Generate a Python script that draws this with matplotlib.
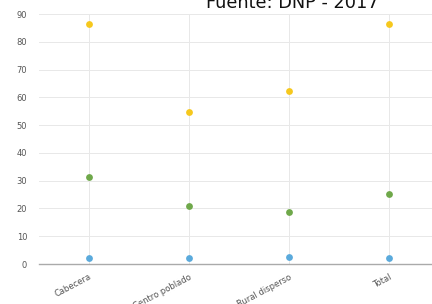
import matplotlib
matplotlib.use("Agg")
import matplotlib.pyplot as plt

categories = ["Cabecera", "Centro poblado", "Rural disperso", "Total"]
serie_amarilla = [86.4, 54.7, 62.3, 86.4]
serie_verde = [31.3, 20.9, 18.7, 25.2]
serie_azul = [2.2, 2.2, 2.5, 2.2]
yticks = [0, 10, 20, 30, 40, 50, 60, 70, 80, 90]

fig = plt.figure(figsize=(4.32, 3.04), dpi=100)
ax = fig.add_axes([39 / 432, 1 - 264 / 304, 1 - 39 / 432, 250 / 304])

x = list(range(len(categories)))
for vals, color in [(serie_amarilla, "#f6c81d"), (serie_verde, "#6fa84a"), (serie_azul, "#5aaadc")]:
    ax.scatter(x, vals, s=24, color=color, zorder=3, linewidths=0)

ax.set_xlim(-0.5, 3.43)
ax.set_ylim(0, 90)
ax.set_yticks(yticks)
ax.set_xticks(x)
ax.set_xticklabels(categories, rotation=28, ha="right", rotation_mode="anchor",
                   fontsize=6, color="#555555")
ax.tick_params(axis="y", labelsize=6, labelcolor="#555555", length=0, pad=8.5)
ax.tick_params(axis="x", length=0, pad=6)

ax.grid(True, color="#e8e8e8", linewidth=0.7)
ax.set_axisbelow(True)
for side in ["top", "right", "left"]:
    ax.spines[side].set_visible(False)
ax.spines["bottom"].set_color("#aaaaaa")
ax.spines["bottom"].set_linewidth(1.0)

fig.text(292 / 432, 1 - 8 / 304, "Fuente: DNP - 2017", ha="center", va="baseline",
         fontsize=12.8, color="#111111")

fig.savefig("out.png", dpi=100)
